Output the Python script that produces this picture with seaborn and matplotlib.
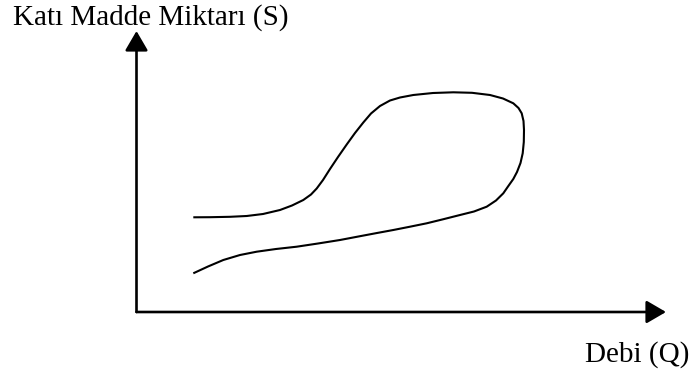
import matplotlib
matplotlib.use("Agg")
import matplotlib.pyplot as plt
import seaborn as sns
import pandas as pd

sns.set_theme(style="white")
plt.rcParams["font.family"] = ["Liberation Serif", "DejaVu Serif"]
plt.rcParams["text.color"] = "black"

# Hysteresis loop of sediment load (S) against discharge (Q), in relative units
Q = [56.8, 73.5, 93.5, 110.2, 126.5, 143.5, 155.5, 166.8, 174.5, 180.2,
     186.5, 193.5, 201.5, 210.2, 218.5, 226.8, 234.5, 243.5, 253.5, 263.5,
     276.8, 296.5, 316.8, 335.5, 353.5, 366.5, 376.8, 382.0, 385.2, 387.0,
     387.5, 387.3, 386.2, 384.0, 380.5, 376.8, 371.5, 366.8, 359.5, 350.2,
     337.5, 323.5, 306.5, 290.2, 273.5, 256.8, 240.5, 223.5, 203.5, 181.5,
     160.2, 139.5, 120.2, 103.5, 86.8, 71.5, 56.8]
S = [94.7, 94.8, 95.2, 96.0, 98.0, 102.0, 106.5, 112.0, 117.5, 123.5,
     132.0, 143.0, 155.0, 167.5, 179.0, 189.5, 198.5, 206.0, 211.5, 214.5,
     217.0, 219.0, 219.7, 219.2, 217.0, 213.5, 208.7, 204.0, 198.7, 191.0,
     182.0, 170.0, 158.7, 149.0, 140.0, 133.0, 125.5, 118.7, 111.5, 105.3,
     100.5, 97.0, 92.7, 88.7, 85.3, 82.0, 79.0, 75.8, 72.0, 68.5,
     65.3, 63.0, 60.3, 57.0, 52.0, 45.5, 38.7]

y_label = "Katı Madde Miktarı (S)"
x_label = "Debi (Q)"

Q_MAX, S_MAX = 529.5, 281.0

W, H = 699, 374
fig = plt.figure(figsize=(W / 100, H / 100), dpi=100)
ox, oy = 136.5, 312.0  # axis origin, pixels from the top-left corner
ax = fig.add_axes([ox / W, (H - oy) / H, Q_MAX / W, S_MAX / H])
ax.set_xlim(0, Q_MAX)
ax.set_ylim(0, S_MAX)
ax.axis("off")

df = pd.DataFrame({"Q": Q, "S": S})
sns.lineplot(data=df, x="Q", y="S", sort=False, estimator=None,
             color="black", linewidth=1.5, ax=ax,
             solid_joinstyle="round", solid_capstyle="butt")

arrow = dict(arrowstyle="-|>,head_length=0.6,head_width=0.35", mutation_scale=20,
             lw=1.9, color="black", shrinkA=0, shrinkB=0)
ax.annotate("", xy=(Q_MAX, 0), xytext=(0, 0), arrowprops=arrow, annotation_clip=False)
ax.annotate("", xy=(0, S_MAX), xytext=(0, 0), arrowprops=arrow, annotation_clip=False)

fig.text(13 / W, 1 - 25 / H, y_label, fontsize=21, va="baseline", ha="left", color="black")
fig.text(585 / W, 1 - 362 / H, x_label, fontsize=21, va="baseline", ha="left", color="black")

fig.savefig("out.png", dpi=100, facecolor="white")
